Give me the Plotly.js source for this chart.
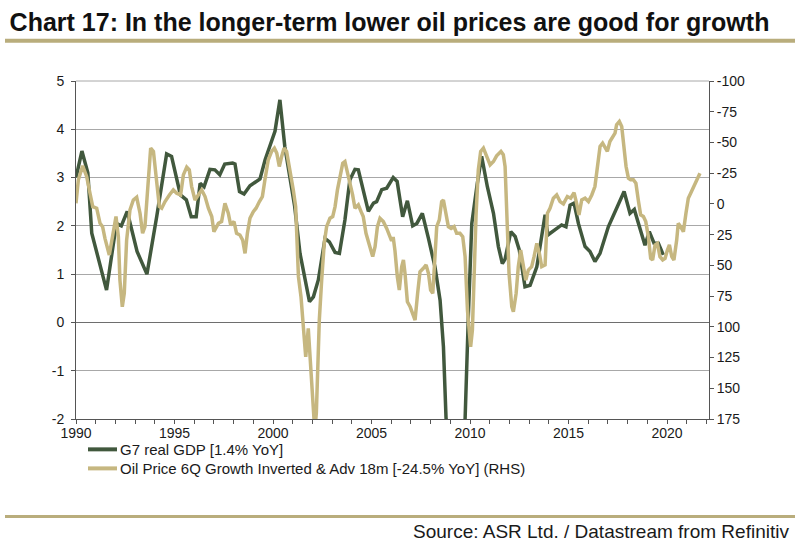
<!DOCTYPE html>
<html><head><meta charset="utf-8">
<script src="https://cdn.plot.ly/plotly-3.0.1.min.js"></script>
<style>html,body{margin:0;padding:0;background:#fff}#chart{width:800px;height:546px}</style>
</head><body><div id="chart"></div>
<script>
// ---- data ----
const gdpYear = [1990.0,1990.3,1990.6,1990.8,1991.55,1991.8,1992.05,1992.3,1992.6,1993.1,1993.6,1994.1,1994.6,1994.85,1995.3,1995.6,1995.85,1996.1,1996.3,1996.5,1996.8,1997.05,1997.3,1997.55,1997.95,1998.07,1998.3,1998.53,1998.83,1999.34,1999.6,2000.1,2000.35,2000.6,2000.86,2001.1,2001.37,2001.85,2002.05,2002.3,2002.64,2002.86,2003.15,2003.37,2003.65,2003.9,2004.16,2004.33,2004.84,2005.1,2005.26,2005.52,2005.77,2006.1,2006.3,2006.58,2006.82,2007.09,2007.3,2007.58,2007.89,2008.22,2008.48,2008.65,2008.78,2009.0,2009.25,2009.5,2009.75,2009.92,2010.09,2010.37,2010.59,2010.88,2011.19,2011.44,2011.64,2011.78,2012.07,2012.29,2012.5,2012.79,2013.05,2013.39,2013.81,2013.95,2014.3,2014.65,2014.87,2015.08,2015.28,2015.5,2015.84,2016.09,2016.34,2016.6,2017.02,2017.53,2017.82,2018.12,2018.34,2018.6,2018.88,2019.1,2019.34,2019.56,2019.81];
const gdpValue = [3.0,3.55,3.1,1.85,0.67,1.36,2.05,2.0,2.3,1.47,1.0,2.2,3.49,3.44,2.64,2.54,2.19,2.19,2.88,2.81,3.17,3.16,3.06,3.28,3.3,3.28,2.71,2.66,2.83,2.97,3.37,3.96,4.61,3.64,2.95,2.4,1.43,0.43,0.53,0.88,1.74,1.67,1.45,1.43,2.12,2.95,3.17,3.16,2.3,2.47,2.5,2.75,2.78,3.0,2.92,2.19,2.52,2.0,2.05,2.26,1.74,1.15,0.46,-0.5,-1.96,-4.0,-4.7,-4.1,-2.0,0.19,2.05,2.88,3.44,2.81,2.26,1.57,1.22,1.31,1.88,1.78,1.5,0.74,0.77,1.15,2.23,1.81,1.92,2.02,1.98,2.43,2.47,2.05,1.57,1.47,1.26,1.43,1.98,2.47,2.71,2.26,2.34,1.98,1.6,1.88,1.64,1.64,1.4];

const oilYear = [1990.0,1990.12,1990.34,1990.54,1990.71,1990.85,1991.05,1991.22,1991.35,1991.47,1991.69,1991.86,1992.03,1992.15,1992.23,1992.35,1992.45,1992.57,1992.74,1992.91,1993.08,1993.25,1993.38,1993.5,1993.62,1993.79,1993.93,1994.06,1994.23,1994.35,1994.52,1994.74,1994.94,1995.11,1995.31,1995.45,1995.62,1995.75,1995.87,1996.04,1996.21,1996.38,1996.55,1996.72,1996.89,1997.0,1997.23,1997.39,1997.56,1997.73,1997.85,1998.02,1998.15,1998.32,1998.46,1998.58,1998.7,1998.83,1999.0,1999.14,1999.31,1999.46,1999.59,1999.76,1999.93,2000.07,2000.19,2000.32,2000.44,2000.56,2000.69,2000.86,2001.03,2001.15,2001.29,2001.42,2001.54,2001.66,2001.79,2001.91,2002.05,2002.12,2002.2,2002.28,2002.35,2002.47,2002.6,2002.72,2002.89,2003.03,2003.15,2003.27,2003.4,2003.54,2003.65,2003.77,2003.91,2004.04,2004.16,2004.33,2004.47,2004.58,2004.72,2004.89,2005.06,2005.18,2005.3,2005.43,2005.6,2005.77,2005.91,2006.02,2006.1,2006.19,2006.31,2006.41,2006.53,2006.62,2006.7,2006.82,2006.96,2007.09,2007.21,2007.34,2007.46,2007.63,2007.77,2007.89,2008.0,2008.11,2008.22,2008.31,2008.44,2008.56,2008.65,2008.78,2008.9,2009.04,2009.19,2009.32,2009.49,2009.63,2009.75,2009.87,2009.97,2010.03,2010.12,2010.2,2010.31,2010.42,2010.54,2010.68,2010.85,2011.02,2011.19,2011.35,2011.57,2011.69,2011.78,2011.86,2011.98,2012.12,2012.2,2012.34,2012.45,2012.57,2012.71,2012.83,2012.96,2013.13,2013.25,2013.39,2013.52,2013.64,2013.81,2013.93,2014.06,2014.23,2014.4,2014.57,2014.74,2014.94,2015.11,2015.28,2015.41,2015.53,2015.67,2015.84,2016.01,2016.18,2016.34,2016.46,2016.6,2016.73,2016.85,2016.97,2017.1,2017.24,2017.36,2017.44,2017.58,2017.7,2017.82,2017.92,2018.04,2018.15,2018.29,2018.42,2018.54,2018.66,2018.8,2018.92,2019.05,2019.17,2019.27,2019.39,2019.51,2019.64,2019.78,2019.9,2020.02,2020.12,2020.24,2020.35,2020.49,2020.57,2020.69,2020.83,2020.96,2021.08,2021.2,2021.34,2021.47,2021.59,2021.67];
const oilValue = [-0.5,-19.6,-31,-22.3,-8.7,2.2,3.5,15.8,18.5,28,41.6,26.6,10.3,26.6,62,83.7,72.8,29.4,4.9,-3.2,-5.4,7.6,23.9,18.5,-11.4,-45.4,-42.7,-22.3,2.2,3.5,-1.9,-7.3,-11.4,-8.7,-7.3,-23.6,-29.9,-27.7,-14.1,-3.2,-7.3,-11.4,-6,3.5,10.3,22.6,15.8,14.4,-0.5,7.6,17.1,14.4,23.9,25.3,29.4,40.2,23.9,11.7,6.3,3.5,-1.9,-6,-19.6,-35.9,-42.7,-45.4,-41.3,-30.4,-38.6,-45.4,-42.7,-27.7,-11.4,2.2,59.2,75.5,97.3,124.5,101.3,135.3,175,185,170,130,94.6,62,32.1,18.5,11.7,10.3,2.2,-11.4,-22.3,-33.1,-34.5,-26.3,-14.1,-7.3,3.5,0.8,6.3,10.3,23.9,34.8,42.9,34.8,18.5,11.7,14.4,19.9,25,30,27,38,59.2,70.1,51.1,45.6,56.5,79.6,83.7,89.1,94.6,72.8,55.2,52.4,49.7,56.5,70.1,72.8,40.2,18.5,13,-1.9,-3.2,7.6,18.5,19.9,18.5,23.9,23.9,26.6,42.9,86.4,105.4,116.3,102.7,51.1,7.6,-27.7,-42.7,-45.4,-38.6,-31.8,-34.5,-39.1,-42.7,-40,-30.4,13,56.5,83.7,87.8,72.8,51.1,37.5,51.1,62,53.8,51.1,42.9,32.1,40.2,51.1,49.7,7.6,3.5,-4.6,-7.3,-1.9,0,-6,-4.6,-9.2,-0.5,8.9,-3.2,-4.6,-1.9,-7.3,-14.1,-30.4,-46.7,-49.4,-45.4,-42.7,-50.8,-54.9,-57.6,-64.4,-67.1,-63,-46.7,-30.4,-20.9,-19.6,-19.6,-16.8,-3.2,8.9,10.3,14.4,26.6,44.3,45.6,33.4,32.1,42.9,45.6,44.3,37.5,33.4,42.9,45.6,29.4,15.8,18.5,22.6,7.6,-4.6,-8.7,-14.1,-18.2,-22.3,-25];

const gdpName = 'G7 real GDP [1.4% YoY]';
const oilName = 'Oil Price 6Q Growth Inverted &amp; Adv 18m [-24.5% YoY] (RHS)';
const chartTitle = 'Chart 17: In the longer-term lower oil prices are good for growth';
const sourceText = 'Source: ASR Ltd. / Datastream from Refinitiv';
const xTickVals = [1990,1995,2000,2005,2010,2015,2020];
const leftTickVals = [-2,-1,0,1,2,3,4,5];
const rightTickVals = [-100,-75,-50,-25,0,25,50,75,100,125,150,175];

// ---- chart ----
const FONT = 'Liberation Sans, Arial, sans-serif';
const GDP_COLOR = '#41583d', OIL_COLOR = '#c6b780';
const traces = [
  {x: gdpYear, y: gdpValue, name: gdpName, type: 'scatter', mode: 'lines',
   line: {color: GDP_COLOR, width: 3.5}, yaxis: 'y', showlegend: false},
  {x: oilYear, y: oilValue, name: oilName, type: 'scatter', mode: 'lines',
   line: {color: OIL_COLOR, width: 3.5}, yaxis: 'y2', showlegend: false}
];
// pixel -> paper helpers for the decorations outside the plot area
const PL = 76, PW = 633, PB = 418.7, PH = 337.4;
const px = v => (v - PL) / PW;
const py = v => (PB - v) / PH;
const legendItems = [[gdpName, GDP_COLOR, 449], [oilName, OIL_COLOR, 468]];
const shapes = [
  {type: 'line', xref: 'paper', yref: 'paper', x0: px(5), x1: px(795), y0: py(41), y1: py(41),
   line: {color: '#b9ad7c', width: 4}},
  {type: 'line', xref: 'paper', yref: 'paper', x0: px(5), x1: px(795), y0: py(516), y1: py(516),
   line: {color: '#b9ad7c', width: 3}},
  {type: 'line', xref: 'paper', yref: 'paper', x0: 0, x1: 1, y0: 1, y1: 1,
   line: {color: '#a8a8a8', width: 1}}
];
const annotations = [
  {text: sourceText, xref: 'paper', yref: 'paper', x: px(791), y: py(531), xanchor: 'right', yanchor: 'middle',
   showarrow: false, font: {family: FONT, size: 19, color: '#1a1a1a'}}
];
legendItems.forEach(([name, color, yy]) => {
  shapes.push({type: 'line', xref: 'paper', yref: 'paper', x0: px(88), x1: px(117), y0: py(yy), y1: py(yy),
               line: {color: color, width: 4}});
  annotations.push({text: name, xref: 'paper', yref: 'paper', x: px(118), y: py(yy), xanchor: 'left',
                    yanchor: 'middle', showarrow: false, font: {family: FONT, size: 15, color: '#1a1a1a'}});
});
const layout = {
  width: 800, height: 546,
  margin: {l: 76, r: 91, t: 81, b: 127},
  paper_bgcolor: '#fff', plot_bgcolor: '#fff',
  font: {family: FONT, size: 14, color: '#1a1a1a'},
  title: {text: '<b>' + chartTitle + '</b>', xref: 'container', yref: 'container',
          x: 0.012, xanchor: 'left', y: 0.96, yanchor: 'middle',
          font: {family: FONT, size: 25, color: '#111'}},
  xaxis: {range: [1990, 2022.13], tickvals: xTickVals, ticktext: xTickVals.map(String),
          ticks: 'outside', ticklen: 4, tickcolor: '#555', showgrid: false, zeroline: false,
          showline: true, linecolor: '#555', linewidth: 1, ticklabelstandoff: -3,
          minor: {dtick: 1, tick0: 1990, ticks: 'outside', ticklen: 4, tickcolor: '#555', showgrid: false},
          tickfont: {size: 14}},
  yaxis: {range: [-2, 5], tickvals: leftTickVals, ticktext: leftTickVals.map(String),
          ticks: 'outside', ticklen: 4, tickcolor: '#555', ticklabelstandoff: 4,
          showgrid: true, gridcolor: '#a8a8a8', gridwidth: 1,
          zeroline: true, zerolinecolor: '#6e6e6e', zerolinewidth: 1.5,
          showline: true, linecolor: '#555', linewidth: 1, tickfont: {size: 14}},
  yaxis2: {range: [175, -100], tickvals: rightTickVals, ticktext: rightTickVals.map(String),
           overlaying: 'y', side: 'right',
           ticks: 'outside', ticklen: 4, tickcolor: '#555', showgrid: false, zeroline: false,
           showline: true, linecolor: '#555', linewidth: 1, tickfont: {size: 14}},
  showlegend: false,
  shapes: shapes,
  annotations: annotations
};
Plotly.newPlot('chart', traces, layout, {staticPlot: true, displayModeBar: false});
</script>
</body></html>
